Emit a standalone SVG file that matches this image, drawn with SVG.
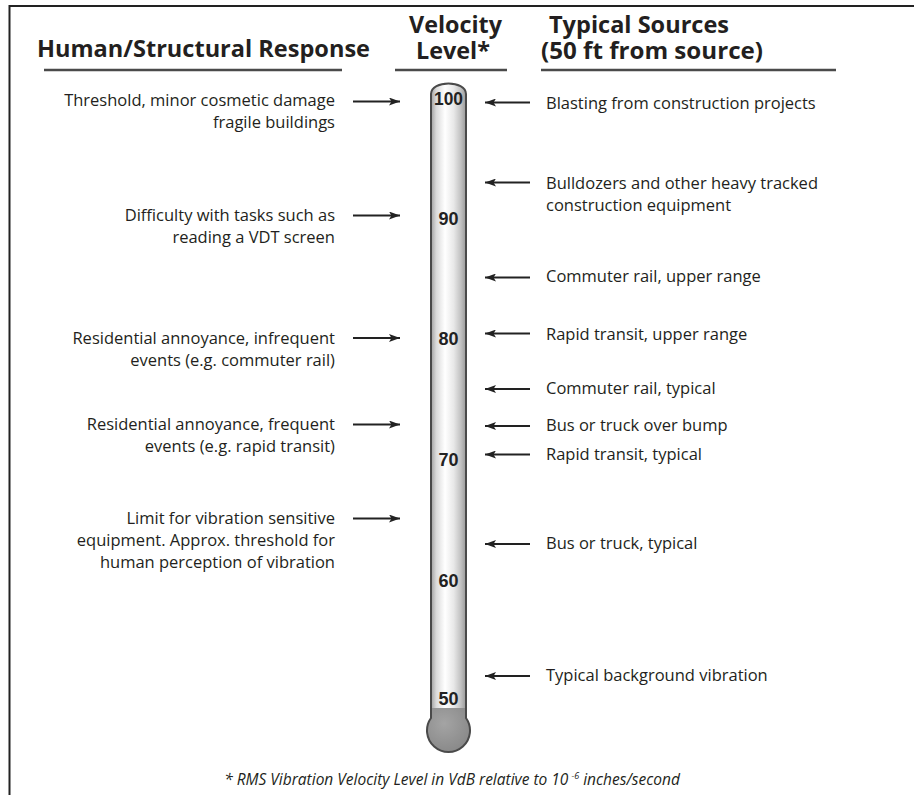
<svg xmlns="http://www.w3.org/2000/svg" width="914" height="795" viewBox="0 0 914 795">
<style>
.hd{font-family:"Open Sans","Liberation Sans",sans-serif;font-weight:bold;font-size:23px;fill:#231f20}
.tx{font-family:"Open Sans","Liberation Sans",sans-serif;font-size:16.5px;fill:#231f20}
.lt{text-anchor:end}
.num{font-family:"Liberation Sans",Arial,sans-serif;font-weight:bold;font-size:18px;fill:#222;text-anchor:middle}
.ul{stroke:#4a4a4a;stroke-width:2.5;fill:none}
.ar{stroke:#222;stroke-width:1.9;fill:none;marker-end:url(#ah)}
.ft{font-family:"Open Sans","Liberation Sans",sans-serif;font-style:italic;font-size:15.5px;fill:#231f20}
</style>
<defs>
<marker id="ah" viewBox="0 0 11 8" refX="11" refY="4" markerWidth="11" markerHeight="8" markerUnits="userSpaceOnUse" orient="auto">
<path d="M0,0 L11,4 L0,8 L2.5,4 Z" fill="#222"/>
</marker>
<linearGradient id="tube" x1="0" y1="0" x2="1" y2="0">
<stop offset="0" stop-color="#a0a0a0"/>
<stop offset="0.15" stop-color="#dadada"/>
<stop offset="0.4" stop-color="#ffffff"/>
<stop offset="0.65" stop-color="#e8e8e8"/>
<stop offset="0.85" stop-color="#c2c2c2"/>
<stop offset="1" stop-color="#9a9a9a"/>
</linearGradient>
<radialGradient id="bulb" cx="0.4" cy="0.35" r="0.7">
<stop offset="0" stop-color="#a4a4a4"/>
<stop offset="1" stop-color="#888888"/>
</radialGradient>
</defs>
<rect width="914" height="795" fill="#ffffff"/>
<g id="frame">
<path d="M9.5,795 V6 H914" fill="none" stroke="#222" stroke-width="2"/>
</g>
<g id="header-response">
<text class="hd" x="37" y="57" textLength="333" lengthAdjust="spacingAndGlyphs">Human/Structural Response</text>
<line class="ul" x1="44" y1="70" x2="342" y2="70"/>
</g>
<g id="header-level">
<text class="hd" x="409" y="33" textLength="93" lengthAdjust="spacingAndGlyphs">Velocity</text>
<text class="hd" x="416" y="59" textLength="74" lengthAdjust="spacingAndGlyphs">Level*</text>
<line class="ul" x1="395" y1="70" x2="507" y2="70"/>
</g>
<g id="header-sources">
<text class="hd" x="549" y="33" textLength="180" lengthAdjust="spacingAndGlyphs">Typical Sources</text>
<text class="hd" x="541" y="59" textLength="222" lengthAdjust="spacingAndGlyphs">(50 ft from source)</text>
<line class="ul" x1="541" y1="70" x2="836" y2="70"/>
</g>
<g id="thermometer">
<path d="M431,718 V94 C431,80 466,80 466,94 V718 Z" fill="url(#tube)"/>
<path d="M431,708 H466 V718 A21.5,21.5 0 1 1 431,718 Z" fill="url(#bulb)"/>
<path d="M431,718 V94 C431,80 466,80 466,94 V718 A21.5,21.5 0 1 1 431,718 Z" fill="none" stroke="#4a4a4a" stroke-width="2"/>
<text class="num" x="448.5" y="104.5" textLength="29" lengthAdjust="spacingAndGlyphs">100</text>
<text class="num" x="448.5" y="225">90</text>
<text class="num" x="448.5" y="345">80</text>
<text class="num" x="448.5" y="466">70</text>
<text class="num" x="448.5" y="586.5">60</text>
<text class="num" x="448.5" y="705">50</text>
</g>
<g id="resp-threshold"><text class="tx lt" x="335" y="105.5">Threshold, minor cosmetic damage</text><text class="tx lt" x="335" y="127.5">fragile buildings</text></g>
<g id="resp-difficulty"><text class="tx lt" x="335" y="220.5">Difficulty with tasks such as</text><text class="tx lt" x="335" y="242.5">reading a VDT screen</text></g>
<g id="resp-infrequent"><text class="tx lt" x="335" y="343.5">Residential annoyance, infrequent</text><text class="tx lt" x="335" y="365.5">events (e.g. commuter rail)</text></g>
<g id="resp-frequent"><text class="tx lt" x="335" y="430">Residential annoyance, frequent</text><text class="tx lt" x="335" y="452">events (e.g. rapid transit)</text></g>
<g id="resp-limit"><text class="tx lt" x="335" y="524">Limit for vibration sensitive</text><text class="tx lt" x="335" y="546">equipment. Approx. threshold for</text><text class="tx lt" x="335" y="568">human perception of vibration</text></g>
<g id="src-blasting"><text class="tx" x="546" y="109">Blasting from construction projects</text></g>
<g id="src-bulldozers"><text class="tx" x="546" y="189">Bulldozers and other heavy tracked</text><text class="tx" x="546" y="211">construction equipment</text></g>
<g id="src-commuter-upper"><text class="tx" x="546" y="282">Commuter rail, upper range</text></g>
<g id="src-rapid-upper"><text class="tx" x="546" y="339.5">Rapid transit, upper range</text></g>
<g id="src-commuter-typ"><text class="tx" x="546" y="394">Commuter rail, typical</text></g>
<g id="src-bus-bump"><text class="tx" x="546" y="431">Bus or truck over bump</text></g>
<g id="src-rapid-typ"><text class="tx" x="546" y="459.5">Rapid transit, typical</text></g>
<g id="src-bus-typ"><text class="tx" x="546" y="549">Bus or truck, typical</text></g>
<g id="src-background"><text class="tx" x="546" y="681">Typical background vibration</text></g>
<g id="connectors">
<line class="ar" x1="353" y1="101.5" x2="400" y2="101.5"/>
<line class="ar" x1="353" y1="215.5" x2="400" y2="215.5"/>
<line class="ar" x1="353" y1="338" x2="400" y2="338"/>
<line class="ar" x1="353" y1="424.5" x2="400" y2="424.5"/>
<line class="ar" x1="353" y1="518.5" x2="400" y2="518.5"/>
<line class="ar" x1="530" y1="102.5" x2="485" y2="102.5"/>
<line class="ar" x1="530" y1="182.5" x2="485" y2="182.5"/>
<line class="ar" x1="530" y1="277.5" x2="485" y2="277.5"/>
<line class="ar" x1="530" y1="333.5" x2="485" y2="333.5"/>
<line class="ar" x1="530" y1="389" x2="485" y2="389"/>
<line class="ar" x1="530" y1="426" x2="485" y2="426"/>
<line class="ar" x1="530" y1="454.5" x2="485" y2="454.5"/>
<line class="ar" x1="530" y1="544" x2="485" y2="544"/>
<line class="ar" x1="530" y1="676" x2="485" y2="676"/>
</g>
<g id="footnote">
<text class="ft" x="452" y="785" text-anchor="middle">* RMS Vibration Velocity Level in VdB relative to 10<tspan font-size="9" dx="3" dy="-6">-6</tspan><tspan dy="6"> inches/second</tspan></text>
</g>
</svg>
